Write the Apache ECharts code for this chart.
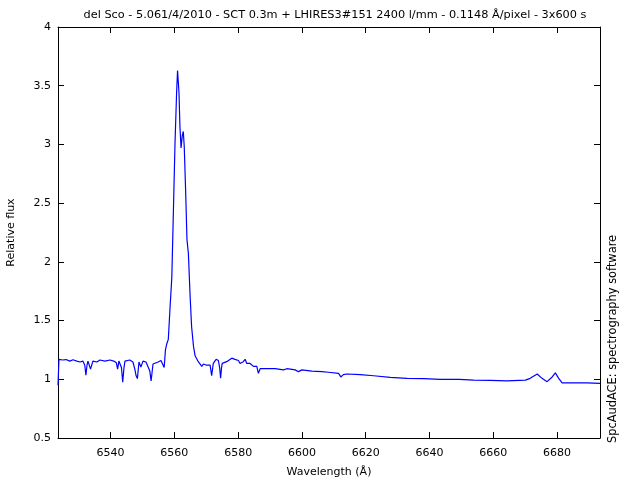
<!DOCTYPE html>
<html>
<head>
<meta charset="utf-8">
<script src="https://cdn.jsdelivr.net/npm/echarts@6/dist/echarts.min.js"></script>
<style>html,body{margin:0;padding:0;background:#fff}#c{width:640px;height:480px}</style>
</head>
<body>
<div id="c"></div>
<script>
var titleText = 'del Sco - 5.061/4/2010 - SCT 0.3m + LHIRES3#151 2400 l/mm - 0.1148 Å/pixel - 3x600 s';
var xName = 'Wavelength (Å)';
var yName = 'Relative flux';
var sideNote = 'SpcAudACE: spectrography software';

var wavelength = [
6523.5,6523.8,6524.1,6525.0,6526.0,6527.2,6528.2,6529.4,6530.4,6531.3,6531.9,6532.25,6532.6,6532.9,6533.7,6534.45,6535.7,6536.65,6538.2,6539.8,
6541.0,6541.8,6542.2,6542.6,6543.4,6543.8,6544.2,6544.5,6545.1,6546.0,6547.0,6547.6,6548.0,6548.4,6548.9,6549.5,6550.15,6551.1,6551.7,6552.3,
6552.7,6553.3,6553.9,6554.9,6555.8,6556.4,6556.8,6557.2,6557.6,6558.1,6558.6,6559.2,6559.7,6560.2,6560.7,6561.0,6561.45,6561.75,6562.1,6562.5,
6562.8,6563.1,6563.55,6563.95,6564.4,6564.9,6565.4,6566.0,6566.5,6567.5,6568.6,6569.1,6570.1,6571.2,6571.7,6572.2,6573.1,6573.8,6574.2,6574.5,
6574.8,6575.0,6576.4,6578.0,6579.0,6580.1,6580.6,6581.6,6582.2,6582.7,6583.75,6584.8,6585.85,6586.35,6586.9,6589.5,6591.6,6594.2,6595.3,6597.9,
6598.9,6600.0,6603.1,6606.3,6608.3,6611.5,6612.2,6613.0,6614.1,6618.3,6622.5,6627.7,6633.0,6638.2,6643.4,6649.3,6649.5,6649.8,6653.9,6659.1,
6664.3,6670.1,6671.6,6673.8,6675.3,6676.9,6678.5,6679.5,6680.5,6681.6,6685.25,6689.4,6693.5
];
var flux = [
0.95,1.17,1.172,1.164,1.168,1.155,1.166,1.155,1.147,1.155,1.12,1.036,1.12,1.155,1.087,1.155,1.147,1.164,1.155,1.164,
1.155,1.14,1.087,1.155,1.10,0.976,1.10,1.155,1.147,1.164,1.147,1.087,1.03,1.006,1.147,1.104,1.155,1.147,1.138,1.07,
0.985,1.13,1.113,1.147,1.16,1.17,1.10,1.25,1.30,1.34,1.59,1.87,2.44,3.01,3.44,3.63,3.44,3.15,2.97,3.08,
3.11,2.98,2.59,2.19,2.07,1.73,1.45,1.28,1.20,1.15,1.11,1.13,1.12,1.12,1.03,1.135,1.17,1.16,1.10,1.01,
1.10,1.135,1.15,1.18,1.17,1.16,1.135,1.15,1.17,1.135,1.135,1.11,1.11,1.05,1.09,1.09,1.09,1.08,1.09,1.08,
1.065,1.08,1.07,1.065,1.06,1.05,1.02,1.04,1.045,1.04,1.03,1.016,1.008,1.005,1.0,1.0,1.015,1.0,0.993,0.99,
0.987,0.993,1.008,1.045,1.008,0.98,1.02,1.055,1.01,0.97,0.97,0.97,0.965
];

var xMin = 6523.5, xMax = 6693.5;
var yMin = 0.5, yMax = 4, yStep = 0.5;

var pts = wavelength.map(function (w, i) { return [w, flux[i]]; });
var font = 'DejaVu Sans';
var chart = echarts.init(document.getElementById('c'), null, {renderer: 'canvas'});
var axisLineStyle = {color: '#000', width: 1};
chart.setOption({
  animation: false,
  backgroundColor: '#fff',
  title: {text: titleText, left: 330, textAlign: 'center', top: 5,
    textStyle: {fontFamily: font, fontSize: 11.3, fontWeight: 'normal', color: '#000'}},
  grid: {left: 58, right: 40, top: 27, bottom: 42, containLabel: false, outerBoundsMode: 'none'},
  xAxis: [{
    type: 'value', min: xMin, max: xMax, splitNumber: 8, position: 'bottom',
    name: xName, nameLocation: 'middle', nameGap: 29,
    nameTextStyle: {fontFamily: font, fontSize: 11, color: '#000'},
    axisLine: {show: true, onZero: false, lineStyle: axisLineStyle},
    axisTick: {show: true, inside: true, length: 6, lineStyle: axisLineStyle},
    axisLabel: {fontFamily: font, fontSize: 11, color: '#000', margin: 10, showMinLabel: false, showMaxLabel: false,
      formatter: function (v) { return String(Math.round(v)); }},
    splitLine: {show: false}
  }, {
    type: 'value', min: xMin, max: xMax, splitNumber: 8, position: 'top',
    axisLine: {show: true, onZero: false, lineStyle: axisLineStyle},
    axisTick: {show: true, inside: true, length: 6, lineStyle: axisLineStyle},
    axisLabel: {show: false}, splitLine: {show: false}
  }],
  yAxis: [{
    type: 'value', min: yMin, max: yMax, interval: yStep, position: 'left',
    name: yName, nameLocation: 'middle', nameGap: 41, nameRotate: 90,
    nameTextStyle: {fontFamily: font, fontSize: 11, color: '#000'},
    axisLine: {show: true, onZero: false, lineStyle: axisLineStyle},
    axisTick: {show: true, inside: true, length: 6, lineStyle: axisLineStyle},
    axisLabel: {fontFamily: font, fontSize: 11, color: '#000', margin: 7},
    splitLine: {show: false}
  }, {
    type: 'value', min: yMin, max: yMax, interval: yStep, position: 'right',
    axisLine: {show: true, onZero: false, lineStyle: axisLineStyle},
    axisTick: {show: true, inside: true, length: 6, lineStyle: axisLineStyle},
    axisLabel: {show: false}, splitLine: {show: false}
  }],
  graphic: [{
    type: 'text', x: 613, y: 443, rotation: Math.PI / 2,
    style: {text: sideNote, font: '11.4px "DejaVu Sans"', fill: '#000', textAlign: 'left', textVerticalAlign: 'middle'}
  }],
  series: [{
    type: 'line', xAxisIndex: 0, yAxisIndex: 0, data: pts, showSymbol: false, symbol: 'none',
    lineStyle: {color: '#0000ff', width: 1.2}, itemStyle: {color: '#0000ff'}
  }]
});
</script>
</body>
</html>
